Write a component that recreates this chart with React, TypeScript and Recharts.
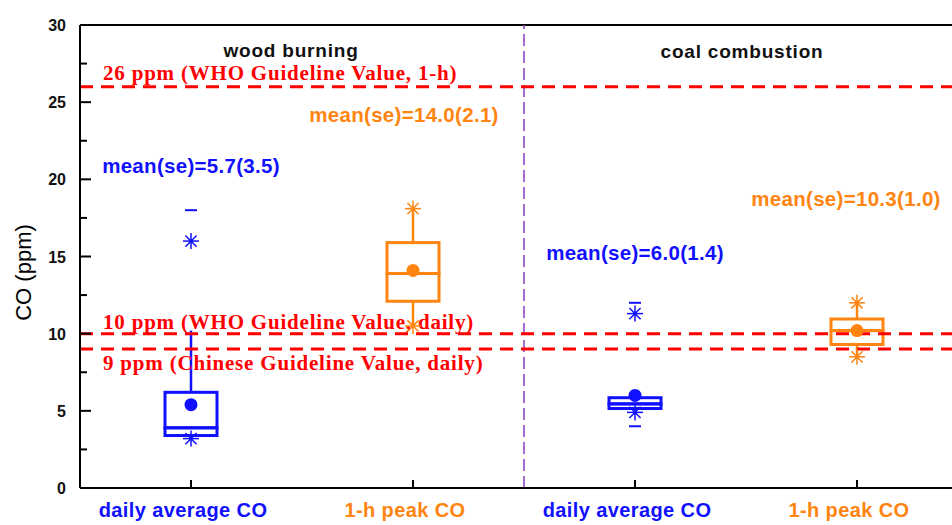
import { ComposedChart, Bar, Scatter, XAxis, YAxis, ReferenceLine, ReferenceDot } from 'recharts'

// categories along the x axis
const categoryIds = ['wd', 'wp', 'cd', 'cp']
const categoryLabels = ['daily average CO', '1-h peak CO', 'daily average CO', '1-h peak CO']

// group titles, anchored on the peak-CO slot of each group
const groupTitles = ['wood burning', 'coal combustion']
const groupTitleAt = ['wp', 'cp']
const groupTitleY = [27.9, 27.85]
const groupTitleDx = [-122, -115]
// first category of the second group (divider sits at its left edge)
const dividerAt = 'cd'

// box statistics, ppm
const whiskerLow = [3.4, 10.4, 5.15, 8.5]
const q1 = [3.4, 12.1, 5.15, 9.3]
const median = [3.9, 13.9, 5.45, 10.2]
const q3 = [6.2, 15.9, 5.85, 10.95]
const whiskerHigh = [10.2, 18.0, 5.85, 12.0]
const meanDot = [5.4, 14.1, 6.0, 10.2]
const starHigh = [16.0, 18.1, 11.3, 12.0]
const starLow = [3.2, 10.5, 4.9, 8.5]
const dashHigh = [18.0, null, 12.0, null]
const dashLow = [null, null, 4.0, null]

// reported mean (se) and where the text goes
const meanReported = [5.7, 14.0, 6.0, 10.3]
const seReported = [3.5, 2.1, 1.4, 1.0]
const meanLabelY = [20.4, 23.7, 14.8, 18.3]
const meanLabelDx = [0, -9, 0, -11]

// guideline values
const guideValues = [26, 10, 9]
const guideLabels = [
  '26 ppm (WHO Guideline Value, 1-h)',
  '10 ppm (WHO Guideline Value, daily)',
  '9 ppm (Chinese Guideline Value, daily)',
]
const guideLabelDy = [-7, -5, 21]

const yTicks = [0, 2.5, 5, 7.5, 10, 12.5, 15, 17.5, 20, 22.5, 25, 27.5, 30]

const BLUE = '#1010ff'
const ORANGE = '#ff8410'
const RED = '#ff0000'
const boxColors = [BLUE, ORANGE, BLUE, ORANGE]
const SANS = '"Liberation Sans", Arial, sans-serif'
const SERIF = '"Liberation Serif", "Times New Roman", serif'

const table = categoryIds.map((id, i) => ({
  id,
  idx: i,
  base: whiskerLow[i],
  lowW: q1[i] - whiskerLow[i],
  boxLo: median[i] - q1[i],
  boxHi: q3[i] - median[i],
  highW: whiskerHigh[i] - q3[i],
  mean: meanDot[i],
  starHigh: starHigh[i],
  starLow: starLow[i],
  dashHigh: dashHigh[i],
  dashLow: dashLow[i],
}))

const BoxPart = (props: any) => {
  const { x, y, width, height, payload } = props
  if (!height) return <g />
  return (
    <rect x={x} y={y} width={width} height={height} fill="none"
      stroke={boxColors[payload.idx]} strokeWidth={3} />
  )
}

const Whisker = (props: any) => {
  const { x, y, width, height, payload } = props
  if (!height) return <g />
  const cx = x + width / 2
  return <line x1={cx} x2={cx} y1={y} y2={y + height} stroke={boxColors[payload.idx]} strokeWidth={2.5} />
}

const ok = (p: any) => p.cx != null && p.cy != null && Number.isFinite(p.cx) && Number.isFinite(p.cy)

const MeanMark = (p: any) => {
  if (!ok(p)) return <g />
  return <circle cx={p.cx} cy={p.cy} r={6.5} fill={boxColors[p.payload.idx]} />
}

const StarMark = (key: string) => (p: any) => {
  if (!ok(p) || p.payload[key] == null) return <g />
  const r = 8
  const d = 5.6
  return (
    <g stroke={boxColors[p.payload.idx]} strokeWidth={1.5}>
      <line x1={p.cx - r} y1={p.cy} x2={p.cx + r} y2={p.cy} />
      <line x1={p.cx} y1={p.cy - r} x2={p.cx} y2={p.cy + r} />
      <line x1={p.cx - d} y1={p.cy - d} x2={p.cx + d} y2={p.cy + d} />
      <line x1={p.cx - d} y1={p.cy + d} x2={p.cx + d} y2={p.cy - d} />
      <circle cx={p.cx} cy={p.cy} r={2} fill={boxColors[p.payload.idx]} stroke="none" />
    </g>
  )
}

const DashMark = (key: string) => (p: any) => {
  if (!ok(p) || p.payload[key] == null) return <g />
  return <line x1={p.cx - 6} x2={p.cx + 6} y1={p.cy} y2={p.cy} stroke={boxColors[p.payload.idx]} strokeWidth={2} />
}

const YTick = (props: any) => {
  const { x, y, payload } = props
  const axisX = x + 14
  const major = payload.value % 5 === 0
  return (
    <g>
      <line x1={axisX} x2={axisX + (major ? 11 : 7)} y1={y} y2={y} stroke="#000" strokeWidth={2} />
      {major && (
        <text x={x} y={y} dy={6} textAnchor="end" fill="#111" fontFamily={SANS} fontWeight="bold" fontSize={16}>
          {payload.value}
        </text>
      )}
    </g>
  )
}

const XTick = (props: any) => {
  const { x, y, payload } = props
  const i = props.index ?? payload.index
  const axisY = y - 8
  return (
    <g>
      <line x1={x} x2={x} y1={axisY} y2={axisY - 8} stroke="#000" strokeWidth={2} />
      <text x={x - 8} y={axisY + 29} textAnchor="middle" fill={boxColors[i]} fontFamily={SANS}
        fontWeight="bold" fontSize={20} letterSpacing={0.4}>
        {categoryLabels[i]}
      </text>
    </g>
  )
}

const yLabel = (props: any) => {
  const vb = props.viewBox
  const cx = 25
  const cy = vb.y + vb.height / 2 + 16
  return (
    <text x={cx} y={cy} transform={`rotate(-90, ${cx}, ${cy})`} textAnchor="middle" dominantBaseline="middle"
      fill="#000" fontFamily={SANS} fontSize={22}>
      CO (ppm)
    </text>
  )
}

const guideLabel = (text: string, dy: number) => (props: any) => {
  const vb = props.viewBox
  return (
    <text x={vb.x + 23} y={vb.y + dy} fill={RED} fontFamily={SERIF} fontWeight="bold" fontSize={21} letterSpacing={0.8}>
      {text}
    </text>
  )
}

const centerText = (text: string, color: string, size: number, spacing: number, dx = 0) => (props: any) => {
  const vb = props.viewBox
  return (
    <text x={vb.x + vb.width / 2 + dx} y={vb.y + vb.height / 2} textAnchor="middle" fill={color}
      fontFamily={SANS} fontWeight="bold" fontSize={size} letterSpacing={spacing}>
      {text}
    </text>
  )
}

export default function App() {
  return (
    <div style={{ position: 'fixed', left: 0, top: 0, width: 952, height: 525, overflow: 'hidden', background: '#fff' }}>
      <ComposedChart width={980} height={525} data={table} margin={{ top: 25, right: 12, bottom: 0, left: 0 }}>
        <XAxis dataKey="id" height={37} tickSize={0} tickMargin={8} tick={<XTick />}
          axisLine={{ stroke: '#000', strokeWidth: 2 }} tickLine={false} interval={0} />
        <YAxis type="number" domain={[0, 30]} ticks={yTicks} interval={0} width={80} tickSize={0} tickMargin={14}
          tick={<YTick />} tickLine={false} axisLine={{ stroke: '#000', strokeWidth: 2 }} label={yLabel} />

        <ReferenceLine y={30} stroke="#000" strokeWidth={2} />
        <ReferenceLine x={dividerAt} position="start" stroke="#8a3cc4" strokeWidth={1.5} strokeDasharray="12 5" />
        {guideValues.map((v, i) => (
          <ReferenceLine key={v} y={v} stroke={RED} strokeWidth={3} strokeDasharray="13 8"
            label={guideLabel(guideLabels[i], guideLabelDy[i])} />
        ))}

        <Bar dataKey="base" stackId="box" barSize={52} fill="none" isAnimationActive={false} />
        <Bar dataKey="lowW" stackId="box" barSize={52} shape={Whisker} isAnimationActive={false} />
        <Bar dataKey="boxLo" stackId="box" barSize={52} shape={BoxPart} isAnimationActive={false} />
        <Bar dataKey="boxHi" stackId="box" barSize={52} shape={BoxPart} isAnimationActive={false} />
        <Bar dataKey="highW" stackId="box" barSize={52} shape={Whisker} isAnimationActive={false} />

        <Scatter dataKey="mean" shape={MeanMark} isAnimationActive={false} />
        <Scatter dataKey="starHigh" shape={StarMark('starHigh')} isAnimationActive={false} />
        <Scatter dataKey="starLow" shape={StarMark('starLow')} isAnimationActive={false} />
        <Scatter dataKey="dashHigh" shape={DashMark('dashHigh')} isAnimationActive={false} />
        <Scatter dataKey="dashLow" shape={DashMark('dashLow')} isAnimationActive={false} />

        {categoryIds.map((id, i) => (
          <ReferenceDot key={id} x={id} y={meanLabelY[i]} r={1} fill="none" stroke="none"
            label={centerText(`mean(se)=${meanReported[i].toFixed(1)}(${seReported[i].toFixed(1)})`, boxColors[i], 20.5, 0.3, meanLabelDx[i])} />
        ))}
        {groupTitles.map((t, i) => (
          <ReferenceDot key={t} x={groupTitleAt[i]} y={groupTitleY[i]} r={1} fill="none" stroke="none"
            label={centerText(t, '#111', 19, 0.8, groupTitleDx[i])} />
        ))}
      </ComposedChart>
    </div>
  )
}
